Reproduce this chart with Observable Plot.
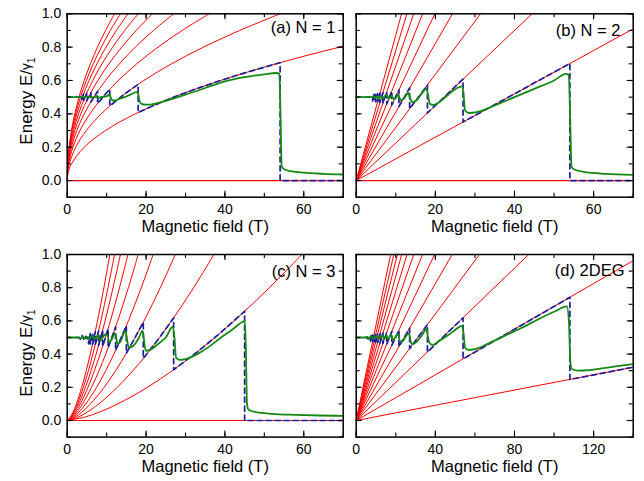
<!DOCTYPE html>
<html><head><meta charset="utf-8">
<script src="https://cdn.jsdelivr.net/npm/d3@7"></script>
<script src="https://cdn.jsdelivr.net/npm/@observablehq/plot@0.6"></script>
<style>
body{margin:0;background:#fff;}
#chart{position:relative;width:644px;height:481px;background:#fff;}
#chart svg{position:absolute;overflow:visible;}
</style></head><body><div id="chart"></div>
<script>
// ---------- data ----------
const xLabel = "Magnetic field (T)";
const titles = ["(a) N = 1", "(b) N = 2", "(c) N = 3", "(d) 2DEG"];
const yTickLabels = [0, 0.2, 0.4, 0.6, 0.8, 1.0];
const yMinorTicks = [-0.1, 0, 0.1, 0.2, 0.3, 0.4, 0.5, 0.6, 0.7, 0.8, 0.9, 1.0];
const xTickLabels70 = [0, 20, 40, 60];
const xMinorTicks70 = [0, 10, 20, 30, 40, 50, 60, 70];
const xTickLabels140 = [0, 40, 80, 120];
const xMinorTicks140 = [0, 20, 40, 60, 80, 100, 120, 140];
const zeroLevel = [0];

// (a) N = 1 : Landau levels, field B at which each level reaches the energies below
const panelAEnergy = [0, 0.05, 0.1, 0.2, 0.3, 0.4, 0.5, 0.6, 0.7, 0.8, 0.9, 1.0];
const panelALevelB = [
  [0, 0.27, 1.08, 4.32, 9.72, 17.28, 27, 38.88, 52.92, 69.12, 87.48, 108],
  [0, 0.135, 0.54, 2.16, 4.86, 8.64, 13.5, 19.44, 26.46, 34.56, 43.74, 54],
  [0, 0.09, 0.36, 1.44, 3.24, 5.76, 9, 12.96, 17.64, 23.04, 29.16, 36],
  [0, 0.068, 0.27, 1.08, 2.43, 4.32, 6.75, 9.72, 13.23, 17.28, 21.87, 27],
  [0, 0.054, 0.216, 0.864, 1.944, 3.456, 5.4, 7.776, 10.58, 13.82, 17.5, 21.6],
  [0, 0.045, 0.18, 0.72, 1.62, 2.88, 4.5, 6.48, 8.82, 11.52, 14.58, 18],
  [0, 0.039, 0.154, 0.616, 1.386, 2.464, 3.85, 5.544, 7.546, 9.856, 12.47, 15.4],
  [0, 0.034, 0.135, 0.54, 1.215, 2.16, 3.375, 4.86, 6.615, 8.64, 10.94, 13.5],
  [0, 0.03, 0.12, 0.48, 1.08, 1.92, 3, 4.32, 5.88, 7.68, 9.72, 12]
];
const panelAZeroT = [[0,0.5],[3.6,0.5],[3.6,0.483],[4.15,0.518],[4.15,0.48],[4.91,0.522],[4.91,0.477],[6,0.527],[6,0.471],[7.71,0.534],[7.71,0.463],[10.8,0.548],[10.8,0.447],[14.4,0.516],[18,0.577],[18,0.408],[22,0.451],[27,0.5],[32,0.544],[38,0.593],[44,0.638],[49,0.673],[54,0.707],[54,0],[70,0]];
const panelAFiniteT = [[0,0.5],[7.2,0.5],[7.6,0.507],[8.0,0.495],[8.5,0.5],[10.0,0.505],[10.6,0.515],[11.0,0.5],[11.5,0.48],[12.2,0.48],[13,0.488],[14.5,0.5],[16,0.515],[17.6,0.53],[18.0,0.52],[18.3,0.48],[18.8,0.46],[20,0.455],[21.5,0.457],[23,0.465],[26,0.485],[30,0.515],[35,0.555],[40,0.595],[45,0.62],[50,0.637],[53,0.645],[53.8,0.64],[54.1,0.4],[54.4,0.085],[55,0.068],[57,0.055],[60,0.047],[65,0.04],[70,0.036]];

// (b) N = 2 : straight levels, field at which each reaches E = 1
const panelBLevelTopB = [76.95, 44.43, 31.41, 24.33, 19.86, 16.79, 14.54, 12.82, 11.47];
const panelBZeroT = [[0,0.5],[4.15,0.5],[4.15,0.477],[4.5,0.517],[4.5,0.475],[4.91,0.518],[4.91,0.473],[5.4,0.521],[5.4,0.471],[6,0.523],[6,0.468],[6.75,0.527],[6.75,0.464],[7.71,0.531],[7.71,0.46],[9,0.536],[9,0.453],[10.8,0.544],[10.8,0.444],[13.5,0.555],[13.5,0.43],[18,0.573],[18,0.405],[27,0.608],[27,0.351],[54,0.702],[54,0],[70,0]];
const panelBFiniteT = [[0,0.5],[4,0.5],[4.4,0.507],[4.8,0.494],[5.2,0.505],[5.7,0.492],[6.1,0.508],[6.6,0.49],[7.2,0.505],[7.8,0.512],[8.2,0.49],[9,0.51],[9.4,0.488],[10,0.495],[10.7,0.515],[11.2,0.48],[12,0.49],[13.2,0.525],[13.6,0.495],[14.2,0.47],[15.2,0.48],[16.5,0.52],[17.7,0.55],[18.1,0.52],[18.6,0.46],[19.5,0.453],[21,0.47],[23,0.51],[26.7,0.565],[27.1,0.53],[27.5,0.42],[28.5,0.405],[30.5,0.41],[35,0.45],[40,0.5],[45,0.55],[50,0.6],[53,0.64],[53.7,0.633],[54.1,0.35],[54.4,0.085],[55,0.068],[58,0.05],[63,0.04],[70,0.034]];

// (c) N = 3
const panelCEnergy = [0, 0.02, 0.05, 0.1, 0.2, 0.3, 0.4, 0.5, 0.6, 0.7, 0.8, 0.9, 1.0];
const panelCLevelB = [
  [0, 4.39, 8.07, 12.82, 20.35, 26.66, 32.3, 37.49, 42.33, 46.91, 51.28, 55.47, 59.5],
  [0, 2.74, 5.05, 8.01, 12.72, 16.67, 20.2, 23.44, 26.46, 29.33, 32.06, 34.68, 37.2],
  [0, 2.02, 3.72, 5.9, 9.37, 12.28, 14.88, 17.26, 19.49, 21.6, 23.61, 25.54, 27.4],
  [0, 1.61, 2.96, 4.7, 7.46, 9.77, 11.84, 13.73, 15.51, 17.19, 18.79, 20.32, 21.8],
  [0, 1.33, 2.44, 3.88, 6.16, 8.07, 9.77, 11.34, 12.81, 14.19, 15.51, 16.78, 18],
  [0, 1.13, 2.09, 3.32, 5.27, 6.9, 8.36, 9.7, 10.96, 12.14, 13.27, 14.36, 15.4],
  [0, 0.99, 1.83, 2.91, 4.62, 6.05, 7.33, 8.51, 9.6, 10.64, 11.63, 12.58, 13.5],
  [0, 0.88, 1.63, 2.58, 4.1, 5.38, 6.51, 7.56, 8.54, 9.46, 10.34, 11.19, 12],
  [0, 0.8, 1.47, 2.33, 3.69, 4.84, 5.86, 6.8, 7.68, 8.51, 9.31, 10.07, 10.8]
];
const panelCZeroT = [[0,0.5],[3,0.5],[3.4,0.488],[3.8,0.512],[4.2,0.49],[4.6,0.51],[5.0,0.492],[5.4,0.5],[5.4,0.462],[5.87,0.524],[5.87,0.46],[6.43,0.527],[6.43,0.459],[7.1,0.533],[7.1,0.455],[7.94,0.538],[7.94,0.451],[9,0.544],[9,0.447],[10.38,0.553],[10.38,0.438],[12.27,0.563],[12.27,0.422],[15,0.571],[15,0.405],[19.3,0.591],[19.3,0.374],[23,0.486],[27,0.618],[27,0.306],[33,0.413],[39,0.531],[45,0.658],[45,0],[70,0]];
const panelCFiniteT = [[0,0.5],[3,0.5],[3.5,0.495],[4,0.505],[4.5,0.495],[5,0.505],[5.5,0.49],[6,0.5],[6.5,0.51],[7.0,0.49],[7.5,0.505],[8,0.515],[8.3,0.48],[9,0.5],[9.8,0.52],[10.3,0.51],[10.6,0.47],[11.3,0.49],[12.1,0.525],[12.4,0.5],[12.8,0.46],[13.5,0.475],[14.8,0.54],[15.1,0.5],[15.6,0.44],[16.5,0.445],[18,0.49],[19.1,0.54],[19.4,0.5],[19.9,0.42],[21,0.425],[23,0.46],[25,0.5],[26.8,0.565],[27.2,0.5],[27.6,0.38],[28.5,0.365],[30,0.37],[33,0.4],[36,0.445],[39,0.5],[42,0.55],[44.5,0.595],[45,0.6],[45.3,0.45],[45.6,0.1],[46,0.065],[48,0.05],[52,0.04],[58,0.034],[64,0.03],[70,0.028]];

// (d) 2DEG : straight levels, field at which each reaches E = 1
const panelDLevelTopB = [436.1, 145.4, 87.2, 62.3, 48.5, 39.6, 33.5, 29.1, 25.7, 23.0, 20.8, 19.0, 17.4];
const panelDZeroT = [[0,0.5],[5.5,0.5],[6,0.49],[6.5,0.51],[7.2,0.5],[7.2,0.478],[7.71,0.512],[7.71,0.477],[8.31,0.514],[8.31,0.476],[9,0.515],[9,0.474],[9.82,0.517],[9.82,0.472],[10.8,0.519],[10.8,0.47],[12,0.522],[12,0.467],[13.5,0.526],[13.5,0.464],[15.43,0.53],[15.43,0.459],[18,0.536],[18,0.453],[21.6,0.544],[21.6,0.445],[27,0.556],[27,0.433],[36,0.577],[36,0.412],[54,0.618],[54,0.371],[108,0.742],[108,0.247],[140,0.321]];
const panelDFiniteT = [[0,0.5],[5,0.5],[5.5,0.505],[6.5,0.495],[7.5,0.51],[8.5,0.49],[9.5,0.505],[10.8,0.51],[11.3,0.49],[12,0.505],[13.5,0.51],[14,0.49],[15.2,0.515],[15.8,0.49],[17.8,0.515],[18.4,0.485],[21.3,0.52],[22,0.48],[23,0.475],[26.6,0.525],[27.3,0.49],[28,0.462],[29.5,0.465],[33,0.51],[35.6,0.55],[36.3,0.5],[37.2,0.465],[38.5,0.455],[42,0.48],[46,0.51],[50,0.545],[53.5,0.572],[54.3,0.52],[55,0.44],[56.5,0.425],[60,0.43],[67,0.465],[75,0.51],[84,0.56],[92,0.61],[100,0.655],[106.5,0.687],[107.5,0.6],[108.2,0.36],[109,0.31],[112,0.3],[118,0.303],[125,0.315],[132,0.327],[140,0.34]];

// ---------- drawing ----------
const FONT = '"Liberation Sans", Arial, Helvetica, sans-serif';
const RED = "#ff0000", GREEN = "#128a12", NAVY = "#1c1c9c";
const Y_DOMAIN = [-0.1, 1.0];

function curvedTable(levelB, energy) {
  return levelB.flatMap((bs, n) => bs.map((b, j) => ({B: b, E: energy[j], n})));
}
function straightTable(topB) {
  return topB.flatMap((b, n) => [{B: 0, E: 0, n}, {B: b, E: 1, n}]);
}

function makePanel(o) {
  const pw = o.width - o.ml - o.mr, ph = o.height - o.mt - o.mb;
  const [x0, x1] = o.xDomain, [y0, y1] = Y_DOMAIN;
  const ux = (x1 - x0) / pw, uy = (y1 - y0) / ph;
  const tk = {stroke: "black", strokeWidth: 1.1};
  const ticks = (xs, ys, len) => [
    Plot.ruleX(xs, {x: d => d, y1: y0, y2: y0 + len * uy, ...tk}),
    Plot.ruleX(xs, {x: d => d, y1: y1 - len * uy, y2: y1, ...tk}),
    Plot.ruleY(ys, {y: d => d, x1: x0, x2: x0 + len * ux, ...tk}),
    Plot.ruleY(ys, {y: d => d, x1: x1 - len * ux, x2: x1, ...tk})
  ];
  const marks = [
    o.zero ? Plot.ruleY(o.zero, {y: d => d, stroke: RED, strokeWidth: 1.2}) : null,
    Plot.line(o.levels, {x: "B", y: "E", z: "n", stroke: RED, strokeWidth: 1, curve: o.curve, clip: true}),
    Plot.line(o.zeroT, {x: d => d[0], y: d => d[1], stroke: NAVY, strokeWidth: 1.7, strokeDasharray: "5,4", clip: true}),
    Plot.line(o.finiteT, {x: d => d[0], y: d => d[1], stroke: GREEN, strokeWidth: 1.8, curve: "monotone-x", clip: true}),
    ...ticks(o.xMinor, yMinorTicks, 4),
    ...ticks(o.xMajor, yTickLabels, 6),
    Plot.frame({stroke: "black", strokeWidth: 1.5}),
    Plot.axisX({ticks: o.xMajor, anchor: "bottom", tickSize: 0, tickPadding: 6.5, fontSize: 14, label: null}),
    o.yAxis ? Plot.axisY({ticks: yTickLabels, anchor: "left", tickSize: 0, tickPadding: 6, fontSize: 14, tickFormat: d3.format(".1f"), label: null}) : null,
    Plot.text([o.title], {frameAnchor: "top-right", textAnchor: "end", lineAnchor: "top", dx: o.tdx, dy: o.tdy, fontSize: 16.5}),
    Plot.text([xLabel], {frameAnchor: "bottom", lineAnchor: "top", dy: 23, fontSize: 16.5})
  ].filter(Boolean);
  const svg = Plot.plot({
    width: o.width, height: o.height,
    marginLeft: o.ml, marginRight: o.mr, marginTop: o.mt, marginBottom: o.mb,
    x: {domain: o.xDomain},
    y: {domain: Y_DOMAIN, axis: o.yAxis ? undefined : null},
    style: {fontFamily: FONT, background: "transparent", overflow: "visible", color: "black"},
    marks
  });
  svg.style.position = "absolute";
  svg.style.left = o.left + "px";
  svg.style.top = o.top + "px";
  if (o.yAxis) {
    const t = d3.select(svg).append("text")
      .attr("transform", `translate(31.5,${o.ylabelY}) rotate(-90)`)
      .attr("text-anchor", "middle")
      .attr("font-family", FONT).attr("font-size", 17).attr("fill", "black");
    t.append("tspan").text("Energy E/");
    t.append("tspan").attr("font-size", 13.5).attr("dy", -2).text("γ");
    t.append("tspan").attr("font-size", 10.5).attr("dy", 5).text("1");
  }
  document.getElementById("chart").appendChild(svg);
}

const LEFT = {left: 0, width: 345, ml: 66.7, mr: 2.3, yAxis: true};
const RIGHT = {left: 322, width: 322, ml: 33.7, mr: 11.3, yAxis: false};
const TOP = {top: 0, height: 232, mt: 13.3, mb: 35.3, ylabelY: 101};
const BOTTOM = {top: 240, height: 241, mt: 14, mb: 44.4, ylabelY: 113};

makePanel({...LEFT, ...TOP, xDomain: [0, 70], xMajor: xTickLabels70, xMinor: xMinorTicks70,
  levels: curvedTable(panelALevelB, panelAEnergy), curve: "catmull-rom", zero: zeroLevel,
  zeroT: panelAZeroT, finiteT: panelAFiniteT, title: titles[0], tdx: -7.7, tdy: 7.2});
makePanel({...RIGHT, ...TOP, xDomain: [0, 70], xMajor: xTickLabels70, xMinor: xMinorTicks70,
  levels: straightTable(panelBLevelTopB), curve: "linear", zero: zeroLevel,
  zeroT: panelBZeroT, finiteT: panelBFiniteT, title: titles[1], tdx: -12.7, tdy: 10});
makePanel({...LEFT, ...BOTTOM, xDomain: [0, 70], xMajor: xTickLabels70, xMinor: xMinorTicks70,
  levels: curvedTable(panelCLevelB, panelCEnergy), curve: "catmull-rom", zero: zeroLevel,
  zeroT: panelCZeroT, finiteT: panelCFiniteT, title: titles[2], tdx: -7.7, tdy: 11});
makePanel({...RIGHT, ...BOTTOM, xDomain: [0, 140], xMajor: xTickLabels140, xMinor: xMinorTicks140,
  levels: straightTable(panelDLevelTopB), curve: "linear", zero: null,
  zeroT: panelDZeroT, finiteT: panelDFiniteT, title: titles[3], tdx: -8.7, tdy: 9.3});
</script></body></html>
